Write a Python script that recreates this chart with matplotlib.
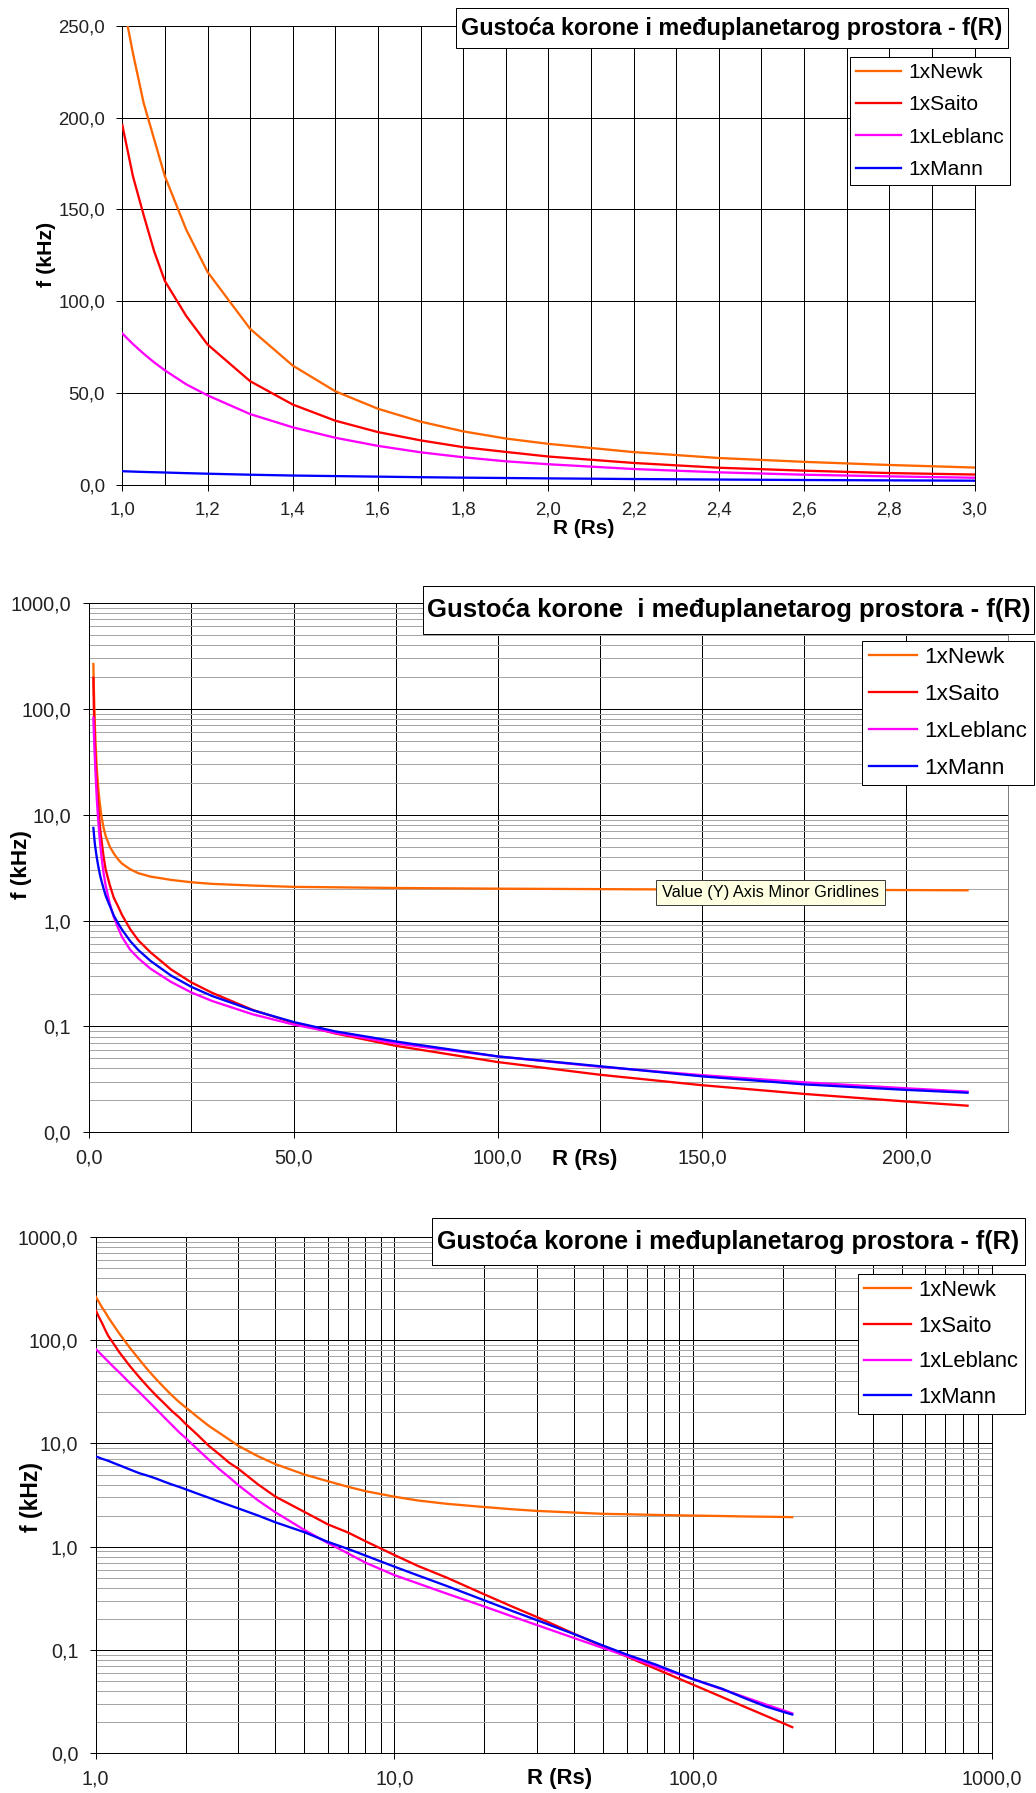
import matplotlib
matplotlib.use("Agg")
import matplotlib.pyplot as plt
from matplotlib.ticker import FixedLocator, FixedFormatter, NullFormatter
from matplotlib.patches import Rectangle

plt.rcParams['font.family'] = ['Liberation Sans', 'DejaVu Sans']

# ---------------- data ----------------
R = [1.0, 1.025, 1.05, 1.075, 1.1, 1.15, 1.2, 1.3, 1.4, 1.5, 1.6, 1.7, 1.8, 1.9,
     2.0, 2.2, 2.4, 2.6, 2.8, 3.0, 3.5, 4, 5, 6, 7, 8, 10, 12, 15, 20, 25, 30,
     40, 50, 60, 75, 100, 125, 150, 175, 200, 215]

newk = [265, 235, 208, 188, 168, 139, 116, 85, 65, 51, 41.5, 34.5, 29.2, 25.3,
        22.4, 17.9, 14.7, 12.6, 10.9, 9.5, 7.5, 6.3, 5.0, 4.3, 3.8, 3.45, 3.05, 2.8,
        2.6, 2.42, 2.3, 2.22, 2.14, 2.08, 2.06, 2.03, 2.0, 1.98, 1.96, 1.95, 1.94, 1.93]

saito = [196, 168, 147, 127, 111, 92, 76.5, 56.5, 43.8, 35.0, 28.8, 24.3, 20.6, 18.0,
         15.5, 12.0, 9.4, 7.8, 6.5, 5.7, 4.0, 3.05, 2.17, 1.64, 1.37, 1.13, 0.83, 0.65,
         0.50, 0.345, 0.26, 0.208, 0.143, 0.108, 0.086, 0.0655, 0.046, 0.0349, 0.0278,
         0.0230, 0.0195, 0.0178]

leblanc = [82.5, 76.7, 71.5, 66.7, 62.4, 54.8, 48.8, 38.6, 31.4, 25.7, 21.3, 17.8, 15.1,
           12.9, 11.3, 8.7, 6.9, 5.6, 4.7, 3.95, 2.8, 2.15, 1.45, 1.08, 0.86, 0.70, 0.53,
           0.44, 0.35, 0.263, 0.209, 0.174, 0.13, 0.104, 0.087, 0.069, 0.052, 0.0415,
           0.0346, 0.0296, 0.026, 0.0242]

mann = [7.5, 7.3, 7.1, 6.95, 6.8, 6.45, 6.15, 5.6, 5.15, 4.85, 4.55, 4.25, 4.0, 3.8,
        3.6, 3.25, 2.97, 2.72, 2.52, 2.35, 2.0, 1.72, 1.38, 1.11, 0.95, 0.82, 0.64,
        0.526, 0.415, 0.302, 0.236, 0.194, 0.142, 0.11, 0.09, 0.072, 0.052, 0.042,
        0.0337, 0.0283, 0.0251, 0.0236]

series_names = ["1xNewk", "1xSaito", "1xLeblanc", "1xMann"]
series_values = [newk, saito, leblanc, mann]
series_colors = ["#FF6600", "#FF0000", "#FF00FF", "#0000FF"]

title_1 = "Gustoća korone i međuplanetarog prostora - f(R)"
title_2 = "Gustoća korone  i međuplanetarog prostora - f(R)"
title_3 = "Gustoća korone i međuplanetarog prostora - f(R)"
x_label = "R (Rs)"
y_label = "f (kHz)"
tooltip_text = "Value (Y) Axis Minor Gridlines"

p1_xticks = [1.0, 1.2, 1.4, 1.6, 1.8, 2.0, 2.2, 2.4, 2.6, 2.8, 3.0]
p1_xticklabels = ["1,0", "1,2", "1,4", "1,6", "1,8", "2,0", "2,2", "2,4", "2,6", "2,8", "3,0"]
p1_xminor = [1.1, 1.3, 1.5, 1.7, 1.9, 2.1, 2.3, 2.5, 2.7, 2.9]
p1_yticks = [0, 50, 100, 150, 200, 250]
p1_yticklabels = ["0,0", "50,0", "100,0", "150,0", "200,0", "250,0"]

p2_xticks = [0, 50, 100, 150, 200]
p2_xticklabels = ["0,0", "50,0", "100,0", "150,0", "200,0"]
p2_xminor = [25, 75, 125, 175, 225]

log_yticks = [0.01, 0.1, 1, 10, 100, 1000]
log_yticklabels = ["0,0", "0,1", "1,0", "10,0", "100,0", "1000,0"]

p3_xticks = [1, 10, 100, 1000]
p3_xticklabels = ["1,0", "10,0", "100,0", "1000,0"]

# ---------------- layout ----------------
W, H = 1036, 1793
PX = 0.72  # one pixel in points
fig = plt.figure(figsize=(W / 100, H / 100), dpi=100)
renderer = fig.canvas.get_renderer()


def rect(l, t, r, b):
    return [l / W, 1 - b / H, (r - l) / W, (b - t) / H]


def fit_size(s, target_px, **kw):
    t = fig.text(0, 0, s, fontsize=20, **kw)
    w = t.get_window_extent(renderer).width
    t.remove()
    return 20 * target_px / w


def boxed_text(s, l, t, r, b, width_px, face="white", edge="black", **kw):
    fig.add_artist(Rectangle((l / W, 1 - b / H), (r - l) / W, (b - t) / H,
                             transform=fig.transFigure, facecolor=face,
                             edgecolor=edge, linewidth=PX, zorder=5))
    fs = fit_size(s, width_px, **kw)
    fig.text((l + r) / 2 / W, 1 - (t + b) / 2 / H, s, ha="center", va="center",
             fontsize=fs, zorder=6, **kw)


def style_axes(ax, tick_fs, ypad, xpad):
    for sp in ax.spines.values():
        sp.set_color("black")
        sp.set_linewidth(PX)
    ax.set_axisbelow(True)
    ax.tick_params(which="major", direction="out", length=6 * PX, width=PX,
                   color="black", labelsize=tick_fs, labelcolor="#222222")
    ax.tick_params(axis="y", which="major", pad=ypad)
    ax.tick_params(axis="x", which="major", pad=xpad)
    ax.tick_params(which="minor", length=0)


def plot_series(ax):
    for name, vals, col in zip(series_names, series_values, series_colors):
        ax.plot(R, vals, color=col, lw=2.3 * PX, label=name, solid_joinstyle="round",
                zorder=3)


def add_legend(ax, l, t, fs, hl, htp, bp, ls):
    leg = ax.legend(loc="upper left", bbox_to_anchor=(l / W, 1 - t / H),
                    bbox_transform=fig.transFigure, borderaxespad=0, frameon=True,
                    fancybox=False, edgecolor="black", framealpha=1, fontsize=fs,
                    handlelength=hl, handletextpad=htp, borderpad=bp, labelspacing=ls)
    leg.get_frame().set_linewidth(PX)
    leg.set_zorder(7)


def set_labels(ax, fs_x, fs_y, xpos, ypos):
    ax.set_xlabel(x_label, fontweight="bold", fontsize=fs_x, va="center")
    ax.xaxis.set_label_coords(*xpos)
    ax.set_ylabel(y_label, fontweight="bold", fontsize=fs_y, va="center", ha="center")
    ax.yaxis.set_label_coords(*ypos)


GRID_BLACK = dict(color="black", linewidth=PX)
GRID_GRAY = dict(color="#A6A6A6", linewidth=PX)

# ---------------- panel 1 : linear ----------------
ax1 = fig.add_axes(rect(122.3, 25.7, 974.5, 485))
plot_series(ax1)
ax1.set_xlim(1, 3)
ax1.set_ylim(0, 250)
ax1.xaxis.set_major_locator(FixedLocator(p1_xticks))
ax1.xaxis.set_major_formatter(FixedFormatter(p1_xticklabels))
ax1.xaxis.set_minor_locator(FixedLocator(p1_xminor))
ax1.yaxis.set_major_locator(FixedLocator(p1_yticks))
ax1.yaxis.set_major_formatter(FixedFormatter(p1_yticklabels))
style_axes(ax1, 13.4, 8.0, 7.5)
ax1.grid(True, axis="x", which="both", **GRID_BLACK)
ax1.grid(True, axis="y", which="major", **GRID_BLACK)
set_labels(ax1, 15.0, 15.4, (0.5415, -0.0949), (-0.0884, 0.503))
add_legend(ax1, 850.4, 57, 15.1, 2.14, 0.34, 0.28, 0.64)
boxed_text(title_1, 456, 7.9, 1007.7, 48.2, 541, fontweight="bold")

# ---------------- panel 2 : semi-log ----------------
ax2 = fig.add_axes(rect(89.3, 603, 1008.4, 1132.2))
plot_series(ax2)
ax2.set_yscale("log")
ax2.set_xlim(0, 225)
ax2.set_ylim(0.01, 1000)
ax2.xaxis.set_major_locator(FixedLocator(p2_xticks))
ax2.xaxis.set_major_formatter(FixedFormatter(p2_xticklabels))
ax2.xaxis.set_minor_locator(FixedLocator(p2_xminor))
ax2.yaxis.set_major_locator(FixedLocator(log_yticks))
ax2.yaxis.set_major_formatter(FixedFormatter(log_yticklabels))
ax2.yaxis.set_minor_formatter(NullFormatter())
style_axes(ax2, 14.3, 9.0, 7.5)
ax2.grid(True, axis="y", which="minor", **GRID_GRAY)
ax2.grid(True, axis="y", which="major", **GRID_BLACK)
ax2.grid(True, axis="x", which="both", **GRID_BLACK)
ax2.spines["right"].set_color("#808080")
set_labels(ax2, 16.0, 16.2, (0.5388, -0.0522), (-0.0736, 0.505))
add_legend(ax2, 862.4, 641, 16.2, 2.14, 0.34, 0.28, 0.70)
boxed_text(title_2, 422.7, 585.7, 1034, 634.3, 602, fontweight="bold")
boxed_text(tooltip_text, 655.6, 880.4, 884.6, 905.3, 217, face="#FFFFE1", edge="#404040")

# ---------------- panel 3 : log-log ----------------
ax3 = fig.add_axes(rect(95.7, 1237.1, 991.6, 1753))
plot_series(ax3)
ax3.set_xscale("log")
ax3.set_yscale("log")
ax3.set_xlim(1, 1000)
ax3.set_ylim(0.01, 1000)
ax3.xaxis.set_major_locator(FixedLocator(p3_xticks))
ax3.xaxis.set_major_formatter(FixedFormatter(p3_xticklabels))
ax3.xaxis.set_minor_formatter(NullFormatter())
ax3.yaxis.set_major_locator(FixedLocator(log_yticks))
ax3.yaxis.set_major_formatter(FixedFormatter(log_yticklabels))
ax3.yaxis.set_minor_formatter(NullFormatter())
style_axes(ax3, 14.1, 8.2, 7.5)
ax3.grid(True, axis="y", which="minor", **GRID_GRAY)
ax3.grid(True, axis="y", which="major", **GRID_BLACK)
ax3.grid(True, axis="x", which="both", **GRID_BLACK)
set_labels(ax3, 15.9, 16.5, (0.518, -0.0498), (-0.0714, 0.496))
add_legend(ax3, 858.3, 1273.7, 15.8, 2.14, 0.34, 0.28, 0.67)
boxed_text(title_3, 432, 1218, 1024.8, 1265, 582, fontweight="bold")

fig.savefig("out.png", dpi=100, facecolor="white")
